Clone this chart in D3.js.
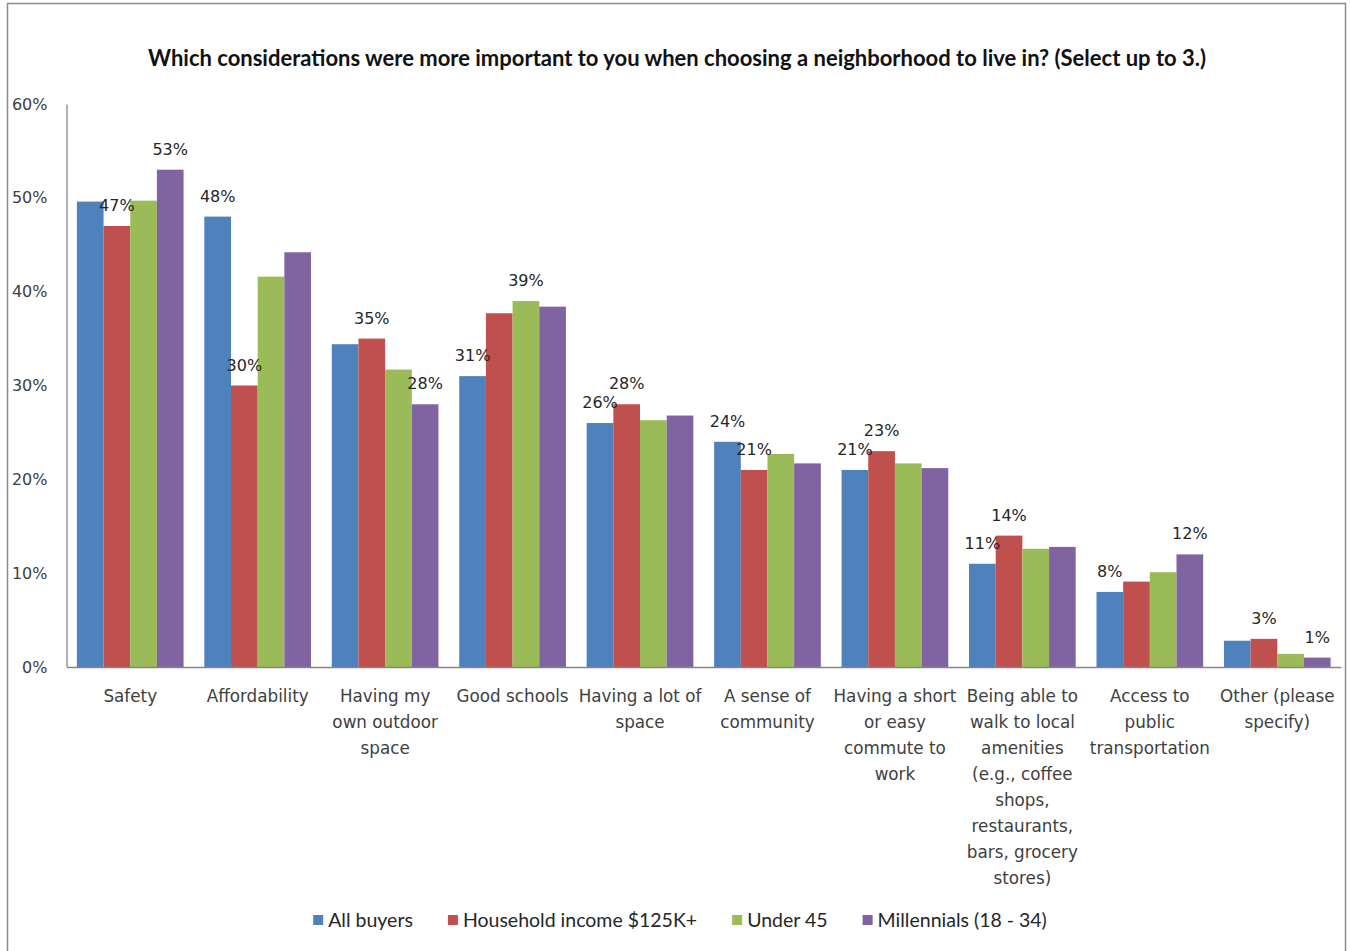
<!DOCTYPE html>
<html>
<head>
<meta charset="utf-8">
<script src="https://cdn.jsdelivr.net/npm/d3@7/dist/d3.min.js"></script>
<style>
  html, body { margin: 0; padding: 0; background: #fff; }
  svg { display: block; }
</style>
</head>
<body>
<svg id="chart" width="1351" height="951"></svg>
<script>
// Survey: neighborhood considerations, share of respondents (%)
const categories = [
  "Safety", "Affordability", "Having my own outdoor space", "Good schools",
  "Having a lot of space", "A sense of community",
  "Having a short or easy commute to work",
  "Being able to walk to local amenities (e.g., coffee shops, restaurants, bars, grocery stores)",
  "Access to public transportation", "Other (please specify)"
];
const categoryLines = [
  ["Safety"],
  ["Affordability"],
  ["Having my", "own outdoor", "space"],
  ["Good schools"],
  ["Having a lot of", "space"],
  ["A sense of", "community"],
  ["Having a short", "or easy", "commute to", "work"],
  ["Being able to", "walk to local", "amenities", "(e.g., coffee", "shops,", "restaurants,", "bars, grocery", "stores)"],
  ["Access to", "public", "transportation"],
  ["Other (please", "specify)"]
];
const seriesNames = ["All buyers", "Household income $125K+", "Under 45", "Millennials (18 - 34)"];
const seriesColors = ["#4F81BD", "#C0504D", "#9BBB59", "#8064A2"];

const allBuyers   = [49.6, 48, 34.4, 31, 26, 24, 21, 11, 8, 2.8];
const income125   = [47, 30, 35, 37.7, 28, 21, 23, 14, 9.1, 3];
const under45     = [49.7, 41.6, 31.7, 39, 26.3, 22.7, 21.7, 12.6, 10.1, 1.4];
const millennials = [53, 44.2, 28, 38.4, 26.8, 21.7, 21.2, 12.8, 12, 1];

// Which bars carry a data label (1 = shown)
const labelAllBuyers   = [0, 1, 0, 1, 1, 1, 1, 1, 1, 0];
const labelIncome125   = [1, 1, 1, 0, 1, 1, 1, 1, 0, 1];
const labelUnder45     = [0, 0, 0, 1, 0, 0, 0, 0, 0, 0];
const labelMillennials = [1, 0, 1, 0, 0, 0, 0, 0, 1, 1];

const yTicks = [0, 10, 20, 30, 40, 50, 60];
const titleText = "Which considerations were more important to you when choosing a neighborhood to live in? (Select up to 3.)";

const seriesValues = [allBuyers, income125, under45, millennials];
const seriesLabels = [labelAllBuyers, labelIncome125, labelUnder45, labelMillennials];

const svg = d3.select("#chart");
const textColor = "#404040";
const axisColor = "#868686";
const bodyFont = "'DejaVu Sans', Verdana, sans-serif";
const legendFont = "Lato, 'Open Sans', sans-serif";

// outer frame
svg.append("rect")
  .attr("x", 7.5).attr("y", 3.5)
  .attr("width", 1338).attr("height", 980)
  .attr("fill", "none").attr("stroke", "#8c8c8c").attr("stroke-width", 1.5);

// title
svg.append("text")
  .attr("x", 677).attr("y", 66)
  .attr("text-anchor", "middle")
  .attr("font-family", legendFont)
  .attr("font-weight", "bold")
  .attr("font-size", 22)
  .attr("fill", "#111")
  .text(titleText);

const plotLeft = 66.5, plotRight = 1341, yBase = 667, yTop = 104;

const x0 = d3.scaleBand().domain(categories).range([plotLeft, plotRight])
  .paddingInner(0.163).paddingOuter(0.0815);
const x1 = d3.scaleBand().domain(seriesNames).range([0, x0.bandwidth()]).padding(0);
const y = d3.scaleLinear().domain([0, 60]).range([yBase, yTop]);

// bars
const groups = svg.append("g").selectAll("g")
  .data(categories)
  .join("g")
  .attr("transform", d => `translate(${x0(d)},0)`);

groups.selectAll("rect")
  .data((d, i) => seriesNames.map((s, k) => ({ s, k, v: seriesValues[k][i], lab: seriesLabels[k][i] })))
  .join("rect")
  .attr("x", d => x1(d.s))
  .attr("y", d => y(d.v))
  .attr("width", x1.bandwidth())
  .attr("height", d => yBase - y(d.v))
  .attr("fill", d => seriesColors[d.k]);

// data labels
groups.selectAll("text.val")
  .data((d, i) => seriesNames.map((s, k) => ({ s, k, v: seriesValues[k][i], lab: seriesLabels[k][i] }))
    .filter(d => d.lab))
  .join("text")
  .attr("class", "val")
  .attr("x", d => x1(d.s) + x1.bandwidth() / 2)
  .attr("y", d => y(d.v) - 15)
  .attr("text-anchor", "middle")
  .attr("font-family", bodyFont)
  .attr("font-size", 16)
  .attr("fill", "#262626")
  .text(d => d3.format(".0f")(d.v) + "%");

// y axis
const yAxis = svg.append("g")
  .attr("transform", `translate(${plotLeft},0)`)
  .call(d3.axisLeft(y).tickValues(yTicks).tickFormat(d => d + "%").tickSize(0).tickSizeOuter(0).tickPadding(19));
yAxis.select(".domain").attr("stroke", axisColor).attr("stroke-width", 1.3);
yAxis.selectAll("text")
  .attr("font-family", bodyFont).attr("font-size", 16).attr("fill", textColor);

// x axis
const xAxis = svg.append("g")
  .attr("transform", `translate(0,${yBase})`)
  .call(d3.axisBottom(x0).tickSize(0).tickSizeOuter(0));
xAxis.select(".domain").attr("stroke", axisColor).attr("stroke-width", 1.3);
xAxis.selectAll(".tick text").each(function (d, i) {
  const t = d3.select(this);
  t.text(null).attr("y", 34.5).attr("dy", null)
    .attr("font-family", bodyFont).attr("font-size", 16.8).attr("fill", textColor);
  categoryLines[i].forEach((line, j) => {
    t.append("tspan").attr("x", 0).attr("dy", j === 0 ? 0 : 26).text(line);
  });
});

// legend
const legend = svg.append("g");
let lx = 0;
seriesNames.forEach((name, k) => {
  const item = legend.append("g").attr("transform", `translate(${lx},0)`);
  item.append("rect").attr("x", 0).attr("y", -5).attr("width", 10).attr("height", 10)
    .attr("fill", seriesColors[k]);
  const t = item.append("text").attr("x", 15).attr("y", 6.5)
    .attr("font-family", legendFont).attr("font-size", 19.5).attr("fill", "#262626")
    .text(name);
  lx += 15 + t.node().getComputedTextLength() + 35;
});
const legendWidth = lx - 35;
legend.attr("transform", `translate(${680 - legendWidth / 2},920)`);
</script>
</body>
</html>
